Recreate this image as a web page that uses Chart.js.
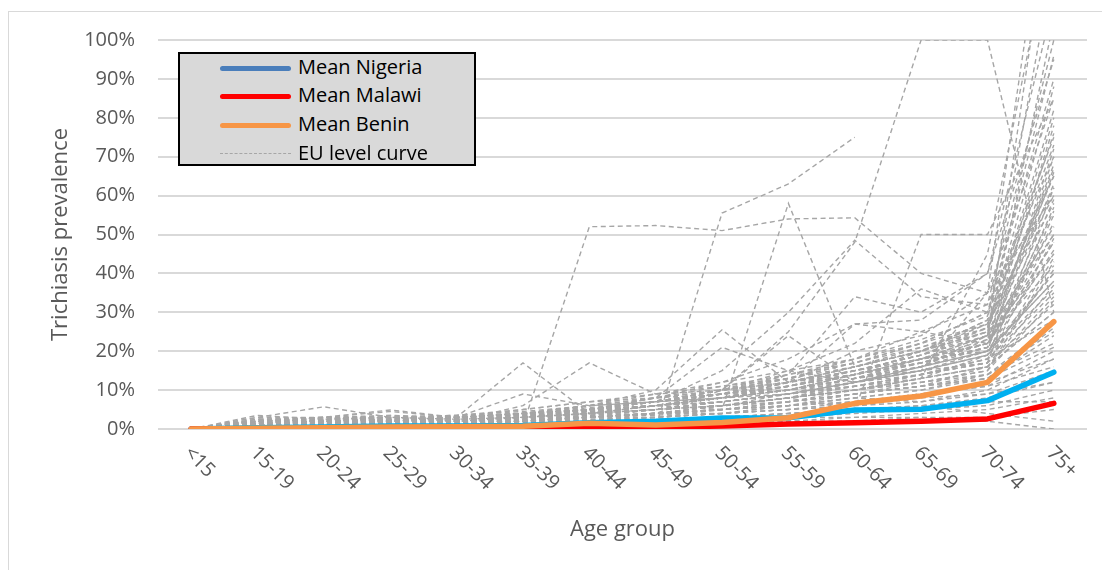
<!DOCTYPE html>
<html>
<head>
<meta charset="utf-8">
<script src="https://cdn.jsdelivr.net/npm/chart.js@4.4.1/dist/chart.umd.min.js"></script>
<style>
  html, body { margin: 0; padding: 0; background: #ffffff; }
  #wrap { position: relative; width: 1102px; height: 570px; overflow: hidden; }
  #frame { position: absolute; left: 8px; top: 11px; width: 1200px; height: 700px;
           border-left: 1px solid #d9d9d9; border-top: 1px solid #d9d9d9; }
  #legend { position: absolute; left: 178px; top: 52px; width: 294px; height: 110px;
            background: #d9d9d9; border: 2px solid #000; font-family: "Open Sans", sans-serif;
            font-size: 20px; color: #000; }
  .row { position: absolute; left: 0; height: 28px; width: 100%; }
  .sw { position: absolute; left: 40px; width: 71px; height: 5px; border-radius: 3px; top: 12px; }
  .swd { position: absolute; left: 40px; width: 71px; top: 13px; border-top: 1.5px dashed #a6a6a6; }
  .lbl { position: absolute; left: 118px; top: -1px; line-height: 28px; white-space: nowrap; }
</style>
</head>
<body>
<div id="wrap">
  <div id="frame"></div>
  <canvas id="c" width="1102" height="570"></canvas>
  <div id="legend">
    <div class="row" style="top:0px"><div class="sw" style="background:#4a7ebb"></div><div class="lbl">Mean Nigeria</div></div>
    <div class="row" style="top:28px"><div class="sw" style="background:#ff0000"></div><div class="lbl">Mean Malawi</div></div>
    <div class="row" style="top:57px"><div class="sw" style="background:#f79646"></div><div class="lbl">Mean Benin</div></div>
    <div class="row" style="top:86px"><div class="swd"></div><div class="lbl">EU level curve</div></div>
  </div>
</div>
<script>
const categories = ["<15","15-19","20-24","25-29","30-34","35-39","40-44","45-49","50-54","55-59","60-64","65-69","70-74","75+"];
const yTicks = [0,10,20,30,40,50,60,70,80,90,100];

// Mean curves (% prevalence)
const meanNigeria = [0,0.3,0.5,0.8,0.8,0.9,1.6,2.0,2.8,2.9,4.9,5.1,7.3,14.6];
const meanMalawi  = [0,0,0,0.1,0.2,0.2,0.3,0.3,0.8,1.3,1.6,2.0,2.6,6.6];
const meanBenin   = [0,0.2,0.3,0.5,0.6,0.7,1.5,1.0,1.7,2.9,6.6,8.5,12.0,27.6];

// EU level curves (% prevalence)
const eu01 = [0,0.5,0.5,1,1,1.5,2,2.5,3,4,5,6,8,12];
const eu02 = [0,1,1.5,1,2,2,3,4,5,6,8,10,14,22];
const eu03 = [0,0.5,1,1.5,1,2,3,3,4,5,7,9,12,18];
const eu04 = [0,2,1.5,2,2.5,3,4,5,6,8,10,14,18,35];
const eu05 = [0,1.5,2,2.5,2,3,5,6,8,10,14,18,24,45];
const eu06 = [0,0,0.5,0.5,1,1,1.5,2,2,3,3,4,5,8];
const eu07 = [0,3.5,2.5,3,2,3,4,6,7,9,12,15,20,40];
const eu08 = [0,1,2,2,3,4,5,7,9,12,16,20,28,60];
const eu09 = [0,2,3,3.5,3,4,6,8,10,13,18,22,30,75];
const eu10 = [0,0.5,1,1,1.5,2,2.5,3,5,6,9,11,16,30];
const eu11 = [0,1,1,2,2,2.5,3,5,6,8,11,13,19,55];
const eu12 = [0,0.5,0.5,1,1,1,2,2,3,3,4,5,6,10];
const eu13 = [0,2.5,2,3,3,4,6,7,9,11,15,19,26,65];
const eu14 = [0,1,1.5,1.5,2,3,4,5,7,9,13,17,22,50];
const eu15 = [0,0,0,0.5,0.5,0.5,1,1,1.5,2,2,3,3,5];
const eu16 = [0,1.5,3,4.5,3,3,5,7,8,12,20,24,35,85];
const eu17 = [0,1,2,3,3,3.5,4.5,6,8,10,13,16,21,70];
const eu18 = [0,2,2.5,2,3.5,5,7,9,12,15,18,25,32,100];
const eu19 = [0,1,1,1.5,2,3,4,6,8,11,14,20,28,120];
const eu20 = [0,0.5,1,2,2,3,3,4,6,8,12,16,24,140];
const eu21 = [0,1.5,2,2,2.5,3,5,6,7,9,11,14,18,28];
const eu22 = [0,3,3,2,3,4,5,6,8,10,13,18,20,38];
const eu23 = [0,0.5,1.5,1,1.5,2,3,4,4,5,6,8,9,15];
const eu24 = [0,1,0.5,1,2,2,2,3,4,6,7,9,11,20];
const eu25 = [0,2,2,3,3,5,7,8,10,14,17,22,30,90];
const eu26 = [0,0.5,1,1,1,1.5,2,2,3,4,5,6,4,2];
const eu27 = [0,1,2,2.5,2,2.5,4,5,6,7,9,11,14,25];
const eu28 = [0,2.5,3,3,3.5,4,6,9,11,13,16,21,27,58];
const eu29 = [0,1,1,1.5,1.5,2,3,4,5,7,10,12,15,33];
const eu30 = [0,0,0.5,0.5,1,1,1,1.5,2,2,3,3,2,0];
const eu31 = [0,1.5,2.5,3.5,2.5,3.5,5,6,8,11,15,19,25,80];
const eu32 = [0,2,1,2,2,2,3,4,5,6,8,7,10,18];
const eu33 = [0,1,1.5,2,3,3,5,7,10,12,14,18,23,42];
const eu34 = [0,0.5,1,1,1,2,2,3,4,5,6,7,9,12];
const eu35 = [0,1,2,2,2.5,3,4,6,9,10,12,15,17,32];
const eu36 = [0,1,2,2,3,17,4,6,8,10,14,18,24,52];
const eu37 = [0,1,1.5,2,2,6,17,9,10,12,16,20,27,62];
const eu38 = [0,1,2,2.5,3,9,6,7,8,9,12,15,19,36];
const eu39 = [0,3,5.7,3,2.5,3,4,5,6,8,10,13,16,30];
const eu40 = [0,2,3,4.9,3,4,5,8,9,11,14,17,22,48];
const eu41 = [0,0.5,1,1,1,1,52,52.3,51,54,54.3,40,35,60];
const eu42 = [0,0,0.5,0.5,1,1,1,0.5,55.5,63,75,null,null,null];
const eu43 = [0,0.5,1,1,1.5,2,3,4,10,25,48,100,100,30];
const eu44 = [0,0.5,1,1,1.5,2,2,4,6,8,5,50,50,85];
const eu45 = [0,1,1,1.5,2,3,4,6,5,58,16,20,25,50];
const eu46 = [0,1,1.5,2,2,3,5,7,15,30,48.5,34,32,70];
const eu47 = [0,1,2,2,2.5,3,6,10,25.5,12,15,18,22,45];
const eu48 = [0,1,1.5,2,2,3,5,8,21,15,12,16,20,38];
const eu49 = [0,1,1.5,1.5,2,3,5,7,10,24,12,15,19,40];
const eu50 = [0,1,1,2,2,3,4,6,9,14,34,30,40,95];
const eu51 = [0,1,1.5,2,2,3,5,7,10,15,22,36,30,65];
const eu52 = [0,1,2,2,3,4,5,8,12,18,27,28,40,110];
const eu53 = [0,1,1,1.5,2,3,4,6,8,12,27,25,22,48];
const eu54 = [0,1,1,2,2,3,4,5,7,9,12,15,35,150];
const eu55 = [0,0.5,1,1.5,2,2,3,4,6,8,10,13,45,130];
const eu56 = [0,1,1.5,2,2.5,3,4,5,7,9,11,14,17,62];
const eu57 = [0,2,2.5,3,2.5,3.5,4.5,6,8,10,13,16,20,72];
const eu58 = [0,0.5,1,1.5,1.5,2,3.5,5,6,8,10,12,15,43];
const eu59 = [0,1.5,1.5,2.5,3,3.5,5,7,9,12,15,18,22,78];
const eu60 = [0,1,2,2,2,3,4,6,8,10,13,15,19,57];
const eu61 = [0,2.5,2,2.5,3,4,5,7,10,13,17,21,26,88];
const eu62 = [0,0.5,1,1,2,2.5,3,4,5,7,9,12,14,27];
const eu63 = [0,1,1.5,2,2,3,4,5,7,9,12,16,23,68];
const eu64 = [0,1.5,2,2,2.5,3,4.5,6,8,11,14,17,21,53];
const eu65 = [0,2,2.5,3,3,4,6,7,9,12,16,20,25,76];
const eu66 = [0,1,1,1.5,2,2.5,3,4,6,8,10,13,16,37];
const eu67 = [0,0.5,1,1,1.5,2,3,3.5,5,6,8,10,13,24];
const eu68 = [0,1.5,2,2.5,3,3.5,5,7,9,11,15,19,24,67];
const eu69 = [0,1,1.5,2,2,3,4,6,8,10,14,17,21,59];
const eu70 = [0,2,3,3,3,4,5,7,10,12,16,20,26,82];
const eu71 = [0,0.5,1,1.5,2,2,3,4,5,7,9,11,13,21];
const eu72 = [0,1,2,2,2.5,3,4.5,6,8,10,13,16,20,46];
const eu73 = [0,1.5,1.5,2,2.5,3.5,5,6,8,11,14,18,22,63];
const eu74 = [0,1,1,1.5,1.5,2.5,3.5,5,6,8,11,14,17,41];
const eu75 = [0,2,2,2.5,3,4,5,7,9,13,17,22,27,73];
const eu76 = [0,0.5,1,1,1.5,2,2.5,3,4,6,7,9,11,16];
const eu77 = [0,1,1.5,2,2,3,4,5,7,9,12,14,18,49];
const eu78 = [0,1.5,2,2.5,2.5,3,5,6,8,10,14,17,21,56];
const eu79 = [0,1,1,1.5,2,2.5,3.5,5,6,8,10,13,16,34];
const eu80 = [0,2.5,3,3,3.5,4.5,6,8,11,14,18,23,29,96];
const eu81 = [0,0.5,0.5,1,1,1.5,2,2.5,3,4,5,6,7,7];
const eu82 = [0,1,1.5,1.5,2,3,4,5,6,9,11,14,17,44];
const eu83 = [0,1.5,2,2,3,3,4.5,6,8,10,13,17,21,66];
const eu84 = [0,1,1,2,2,2.5,3.5,4,6,7,9,11,13,26];
const eu85 = [0,2,2.5,2.5,3,4,5.5,7,10,12,15,19,24,105];

const euCurves = [eu01,eu02,eu03,eu04,eu05,eu06,eu07,eu08,eu09,eu10,eu11,eu12,eu13,eu14,eu15,eu16,eu17,eu18,eu19,eu20,
  eu21,eu22,eu23,eu24,eu25,eu26,eu27,eu28,eu29,eu30,eu31,eu32,eu33,eu34,eu35,eu36,eu37,eu38,eu39,eu40,
  eu41,eu42,eu43,eu44,eu45,eu46,eu47,eu48,eu49,eu50,eu51,eu52,eu53,eu54,eu55,eu56,eu57,eu58,eu59,eu60,
  eu61,eu62,eu63,eu64,eu65,eu66,eu67,eu68,eu69,eu70,eu71,eu72,eu73,eu74,eu75,eu76,eu77,eu78,eu79,eu80,
  eu81,eu82,eu83,eu84,eu85];

const FONT = "'Open Sans', sans-serif";
const TXT = "#595959";

const datasets = [
  { label: "Mean Benin", data: meanBenin, borderColor: "#f79646", borderWidth: 5.5, order: 1 },
  { label: "Mean Malawi", data: meanMalawi, borderColor: "#ff0000", borderWidth: 5.5, order: 2 },
  { label: "Mean Nigeria", data: meanNigeria, borderColor: "#00b0f0", borderWidth: 5.5, order: 3 }
].map(d => Object.assign(d, { pointRadius: 0, borderCapStyle: "round", borderJoinStyle: "round", tension: 0, fill: false }));

euCurves.forEach((arr, i) => {
  datasets.push({
    label: "EU level curve " + (i + 1), data: arr, borderColor: "#a6a6a6", borderWidth: 1.4,
    borderDash: [5, 3.5], pointRadius: 0, tension: 0, fill: false, order: 10, spanGaps: false
  });
});

const xLabelPlugin = {
  id: "xLabels",
  afterDraw(chart) {
    const ctx = chart.ctx, xs = chart.scales.x, area = chart.chartArea;
    ctx.save();
    ctx.font = "20px " + FONT;
    ctx.fillStyle = TXT;
    ctx.textAlign = "left";
    ctx.textBaseline = "middle";
    categories.forEach((lab, i) => {
      const x = xs.getPixelForTick(i);
      ctx.save();
      ctx.translate(x - 4, area.bottom + 21);
      ctx.rotate(Math.PI / 4);
      ctx.fillText(lab, 0, 0);
      ctx.restore();
    });
    ctx.restore();
  }
};

new Chart(document.getElementById("c"), {
  type: "line",
  data: { labels: categories, datasets },
  options: {
    responsive: false,
    animation: false,
    events: [],
    layout: { padding: { top: 40, right: 15, left: 0, bottom: 0 } },
    plugins: { legend: { display: false }, tooltip: { enabled: false } },
    scales: {
      x: {
        offset: true,
        grid: { display: false },
        border: { display: false },
        ticks: { display: false },
        title: { display: true, text: "Age group", color: TXT, font: { family: FONT, size: 22 }, padding: { top: 0, bottom: 27 } },
        afterFit(s) { s.height = 141; }
      },
      y: {
        min: 0, max: 100,
        afterBuildTicks(s) { s.ticks = yTicks.map(v => ({ value: v })); },
        grid: { color: "#d9d9d9", lineWidth: 2, drawTicks: false },
        border: { display: false },
        ticks: { padding: 23, color: TXT, font: { family: FONT, size: 20 }, callback: v => v + "%" },
        title: { display: true, text: "Trichiasis prevalence", color: TXT, font: { family: FONT, size: 22 }, padding: { top: 48, bottom: 0 } },
        afterFit(s) { s.width = 158; }
      }
    }
  },
  plugins: [xLabelPlugin]
});
</script>
</body>
</html>
